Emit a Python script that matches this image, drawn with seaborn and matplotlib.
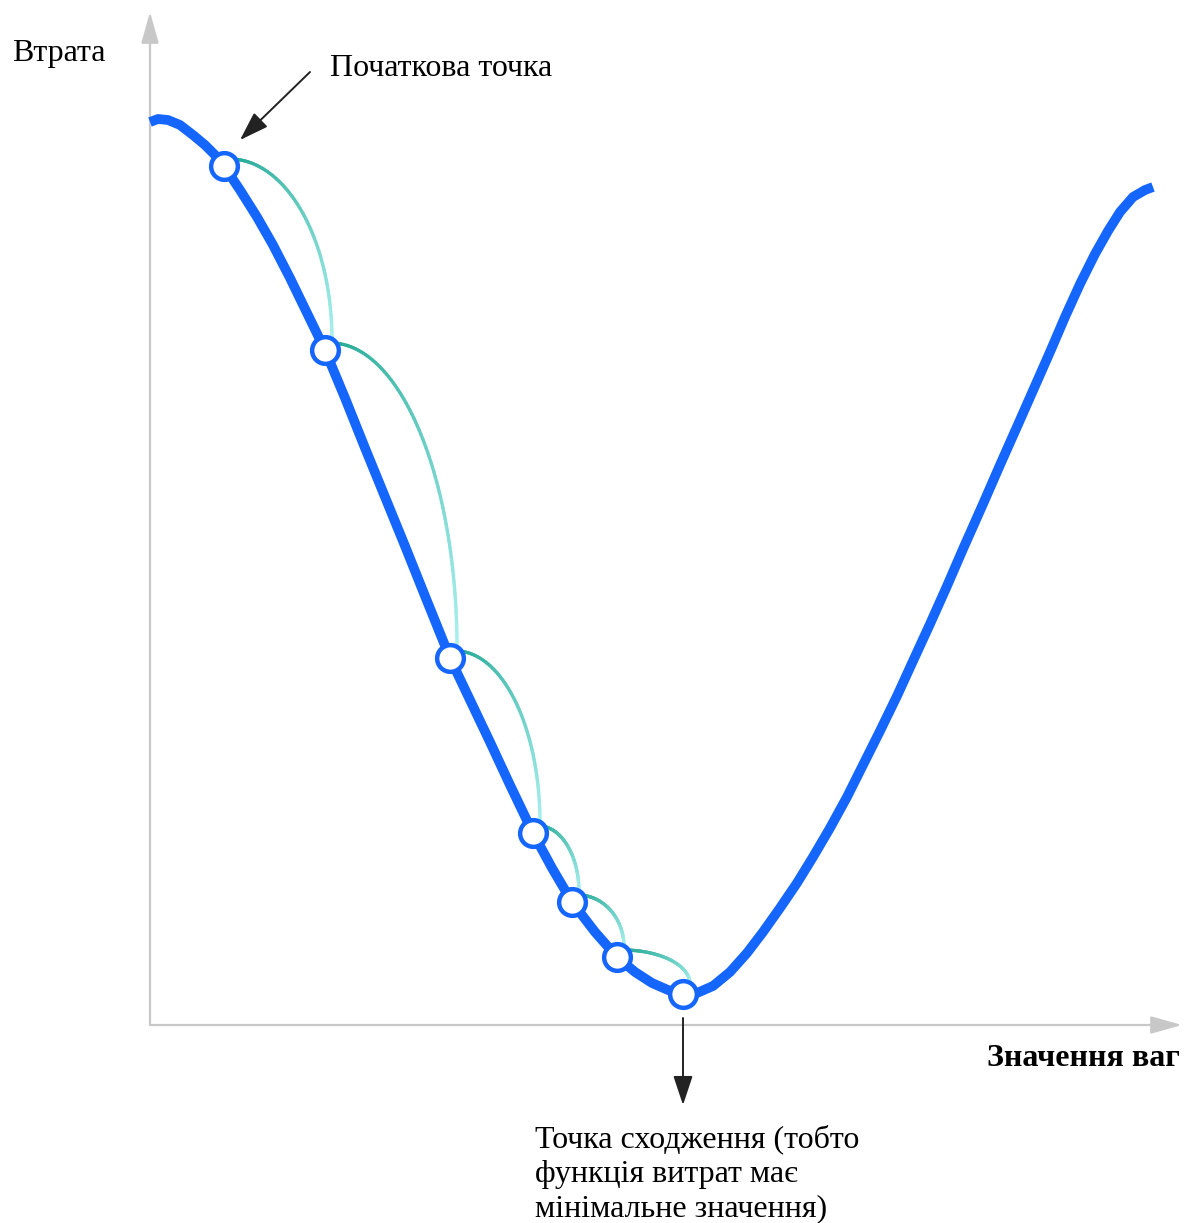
import numpy as np
import pandas as pd
import matplotlib.pyplot as plt
import seaborn as sns
from matplotlib.collections import LineCollection
from matplotlib.colors import to_rgb

sns.set_theme(style="white")
plt.rcParams['font.family'] = ['Liberation Serif', 'DejaVu Serif']
plt.rcParams['text.color'] = 'black'

# loss curve (x = weight value, y = loss)
weight_vals = [0, 8, 18, 30, 43, 55, 65, 74, 90, 107, 123, 140, 157, 175, 195,
               215, 235, 255, 275, 300, 320, 340, 360, 383, 402, 422, 445, 467,
               485, 502, 518, 533, 547, 563, 580, 597, 613, 630, 647, 663, 680,
               697, 713, 730, 747, 763, 780, 797, 813, 833, 850, 870, 885, 900,
               915, 930, 945, 958, 970, 983, 995, 1003]
loss_vals = [903, 906, 905, 900, 890, 880, 870, 859, 835, 808, 780, 747, 712,
             675, 627, 577, 528, 479, 429, 367, 325, 283, 240, 192, 157, 123,
             93, 68, 53, 42, 35, 31, 32, 39, 53, 72, 93, 117, 142, 168, 197,
             228, 260, 294, 329, 364, 401, 439, 476, 521, 560, 605, 639, 673,
             708, 741, 771, 794, 813, 828, 835, 838]

# gradient descent steps
step_w = [74, 175, 300, 383, 422, 467, 533]
step_loss = [859, 675, 367, 192, 123, 68, 31]

y_label = "Втрата"
x_label = "Значення ваг"
start_label = "Початкова точка"
end_label = "Точка сходження (тобто\nфункція витрат має\nмінімальне значення)"

blue = "#1565ff"
axis_grey = "#c8c8c8"

fig = plt.figure(figsize=(11.92, 12.23), dpi=100)
ax = fig.add_axes([0, 0, 1, 1])
ax.set_xlim(-150, 1042)
ax.set_ylim(-198, 1025)
ax.axis('off')

# axes with arrow heads
for tip in [(0, 1013), (1032, 0)]:
    ax.annotate("", xy=tip, xytext=(0, 0),
                arrowprops=dict(arrowstyle="-|>,head_length=1.6,head_width=0.45",
                                color=axis_grey, lw=1.6, shrinkA=0, shrinkB=0))

# arcs between the steps, teal fading to light cyan
c0 = np.array(to_rgb("#22a894"))
c1 = np.array(to_rgb("#a8f0ee"))
for i in range(len(step_w) - 1):
    x0, y0 = step_w[i], step_loss[i]
    x1, y1 = step_w[i + 1], step_loss[i + 1]
    t = np.linspace(np.pi / 2, 0, 80)
    cx, cy = x0 + 6, y1 + 10
    rx, ry = x1 - x0 + 1, y0 - y1 - 3
    pts = np.column_stack([cx + rx * np.cos(t), cy + ry * np.sin(t)]).reshape(-1, 1, 2)
    segs = np.concatenate([pts[:-1], pts[1:]], axis=1)
    f = np.linspace(0, 1, len(segs))[:, None]
    cols = c0 * (1 - f) + c1 * f
    ax.add_collection(LineCollection(segs, colors=cols, linewidths=2.4,
                                     capstyle='round', zorder=2))

curve = pd.DataFrame({"w": weight_vals, "loss": loss_vals})
sns.lineplot(data=curve, x="w", y="loss", sort=False, color=blue, lw=7,
             ax=ax, zorder=3, solid_capstyle='butt', solid_joinstyle='round')

steps = pd.DataFrame({"w": step_w, "loss": step_loss})
sns.scatterplot(data=steps, x="w", y="loss", s=370, color="white",
                edgecolor=blue, linewidth=3.2, ax=ax, zorder=4)
ax.set_xlabel("")
ax.set_ylabel("")

# labels
ax.text(-138, 971, y_label, fontsize=23, ha='left', va='center')
ax.text(180, 957, start_label, fontsize=23, ha='left', va='center')
ax.text(1030, -33, x_label, fontsize=23, ha='right', va='center', fontweight='bold')
ax.text(385, -99, end_label, fontsize=23, ha='left', va='top', linespacing=1.27)

ax.annotate("", xy=(90, 885), xytext=(160, 953),
            arrowprops=dict(arrowstyle="-|>,head_length=1.5,head_width=0.5",
                            color="#222222", lw=1.4, shrinkA=0, shrinkB=0))
ax.annotate("", xy=(533, -80), xytext=(533, 7),
            arrowprops=dict(arrowstyle="-|>,head_length=1.5,head_width=0.5",
                            color="#222222", lw=1.4, shrinkA=0, shrinkB=0))

fig.savefig("out.png", dpi=100)
